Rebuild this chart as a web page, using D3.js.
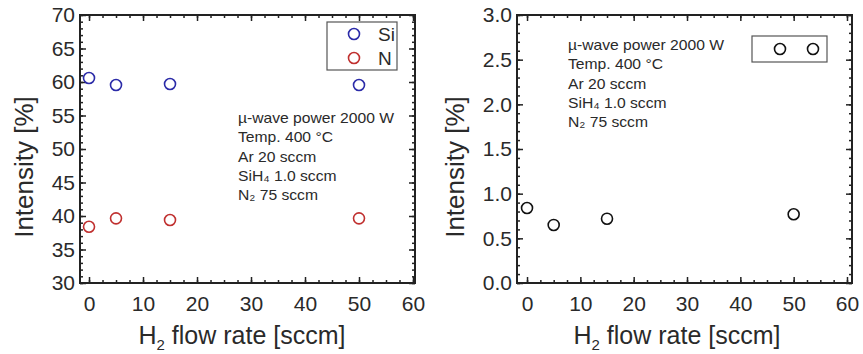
<!DOCTYPE html>
<html>
<head>
<meta charset="utf-8">
<script src="https://d3js.org/d3.v7.min.js"></script>
<style>
body { margin: 0; background: #fff; }
text { font-family: "Liberation Sans", Arial, sans-serif; fill: #2a2a2a; }
</style>
</head>
<body>
<script>
// H2 flow rate values (sccm)
var flowRates = [0, 5, 15, 50];
// left panel: Si / N intensity (%)
var siValues = [60.6, 59.55, 59.7, 59.55];
var nValues = [38.4, 39.65, 39.4, 39.65];
// right panel: single series intensity (%)
var rightValues = [0.84, 0.65, 0.72, 0.77];

var xTicks = [0, 10, 20, 30, 40, 50, 60];
var leftYTicks = [30, 35, 40, 45, 50, 55, 60, 65, 70];
var rightYTicks = [0.0, 0.5, 1.0, 1.5, 2.0, 2.5, 3.0];

var conditions = ["\u00b5-wave power 2000 W", "Temp. 400 \u00b0C", "Ar 20 sccm", "SiH\u2084 1.0 sccm", "N\u2082 75 sccm"];

var svg = d3.select("body").append("svg")
	.attr("width", 863)
	.attr("height", 354);

function panel(opt) {
	var g = svg.append("g");
	var x = d3.scaleLinear().domain(opt.xDomain).range([opt.left, opt.right]);
	var y = d3.scaleLinear().domain(opt.yDomain).range([opt.bottom, opt.top]);
	var w = opt.right - opt.left, h = opt.bottom - opt.top;

	// minor ticks (inward)
	var xMinor = d3.range(0, 60.01, 2.5);
	var yMinor = d3.range(opt.yDomain[0], opt.yDomain[1] + 1e-6, opt.yMinorStep);
	g.append("g").attr("transform", "translate(0," + opt.bottom + ")")
		.call(d3.axisBottom(x).tickValues(xMinor).tickSize(-3).tickFormat(""));
	g.append("g").attr("transform", "translate(0," + opt.top + ")")
		.call(d3.axisTop(x).tickValues(xMinor).tickSize(-3).tickFormat(""));
	g.append("g").attr("transform", "translate(" + opt.left + ",0)")
		.call(d3.axisLeft(y).tickValues(yMinor).tickSize(-3).tickFormat(""));
	g.append("g").attr("transform", "translate(" + opt.right + ",0)")
		.call(d3.axisRight(y).tickValues(yMinor).tickSize(-3).tickFormat(""));

	// major ticks with labels
	g.append("g").attr("transform", "translate(0," + opt.bottom + ")")
		.call(d3.axisBottom(x).tickValues(xTicks).tickSize(-6).tickPadding(13).tickFormat(d3.format("d")));
	g.append("g").attr("transform", "translate(0," + opt.top + ")")
		.call(d3.axisTop(x).tickValues(xTicks).tickSize(-6).tickFormat(""));
	g.append("g").attr("transform", "translate(" + opt.left + ",0)")
		.call(d3.axisLeft(y).tickValues(opt.yTicks).tickSize(-6).tickPadding(5).tickFormat(opt.yFormat));
	g.append("g").attr("transform", "translate(" + opt.right + ",0)")
		.call(d3.axisRight(y).tickValues(opt.yTicks).tickSize(-6).tickFormat(""));

	g.selectAll(".domain").remove();
	g.selectAll(".tick line").attr("stroke", "#222").attr("stroke-width", 1.5);
	g.selectAll(".tick text").style("font-size", "21px").attr("fill", "#2a2a2a")
		.style("font-family", "'Liberation Sans', Arial, sans-serif");

	// frame
	g.append("rect")
		.attr("x", opt.left).attr("y", opt.top)
		.attr("width", w).attr("height", h)
		.attr("fill", "none").attr("stroke", "#222").attr("stroke-width", 2);

	// y title
	g.append("text")
		.attr("transform", "translate(" + (opt.left - opt.yTitleGap) + ",167) rotate(-90)")
		.attr("text-anchor", "middle")
		.style("font-size", "26px")
		.text("Intensity [%]");

	// x title
	var xt = g.append("text")
		.attr("x", opt.titleX)
		.attr("y", 344)
		.attr("text-anchor", "middle")
		.style("font-size", "25px");
	xt.append("tspan").text("H");
	xt.append("tspan").attr("dy", 6).style("font-size", "15px").text("2");
	xt.append("tspan").attr("dy", -6).text(" flow rate [sccm]");

	// conditions
	var ct = g.append("g").attr("transform", "translate(" + opt.noteX + "," + opt.noteY + ")");
	ct.selectAll("text").data(conditions).enter().append("text")
		.attr("x", 0)
		.attr("y", function (d, i) { return i * 19.3; })
		.attr("transform", "scale(1.08,1)")
		.style("font-size", "14.5px")
		.text(function (d) { return d; });

	// series
	opt.series.forEach(function (s) {
		g.append("g").selectAll("circle")
			.data(s.values).enter().append("circle")
			.attr("cx", function (d, i) { return x(flowRates[i]); })
			.attr("cy", function (d) { return y(d); })
			.attr("r", 5.5)
			.attr("fill", "none")
			.attr("stroke", s.color)
			.attr("stroke-width", 1.6);
	});
	return g;
}

// left panel
var gl = panel({
	left: 80, right: 415, top: 15, bottom: 283,
	xDomain: [-1.67, 60.37],
	yDomain: [30, 70], yTicks: leftYTicks, yMinorStep: 1, yFormat: d3.format("d"),
	noteX: 238, noteY: 123, titleX: 242, yTitleGap: 47,
	series: [{ values: siValues, color: "#2b2ba8" }, { values: nValues, color: "#c0302f" }]
});

// legend left
gl.append("rect").attr("x", 327).attr("y", 22).attr("width", 70).attr("height", 48)
	.attr("fill", "#fff").attr("stroke", "#555").attr("stroke-width", 1.2);
[["Si", "#2b2ba8", 34], ["N", "#c0302f", 58]].forEach(function (l) {
	gl.append("circle").attr("cx", 354).attr("cy", l[2]).attr("r", 5.5)
		.attr("fill", "none").attr("stroke", l[1]).attr("stroke-width", 1.6);
	gl.append("text").attr("x", 378).attr("y", l[2] + 7).style("font-size", "19px").text(l[0]);
});

// right panel
var gr = panel({
	left: 517, right: 852, top: 15, bottom: 283,
	xDomain: [-1.88, 60.94],
	yDomain: [0, 3], yTicks: rightYTicks, yMinorStep: 0.1, yFormat: d3.format(".1f"),
	noteX: 568, noteY: 50, titleX: 677, yTitleGap: 53,
	series: [{ values: rightValues, color: "#111" }]
});

// legend right
gr.append("rect").attr("x", 752).attr("y", 36).attr("width", 75).attr("height", 26)
	.attr("fill", "#fff").attr("stroke", "#555").attr("stroke-width", 1.2);
[780, 813].forEach(function (cx) {
	gr.append("circle").attr("cx", cx).attr("cy", 49).attr("r", 5.5)
		.attr("fill", "none").attr("stroke", "#111").attr("stroke-width", 1.6);
});
</script>
</body>
</html>
